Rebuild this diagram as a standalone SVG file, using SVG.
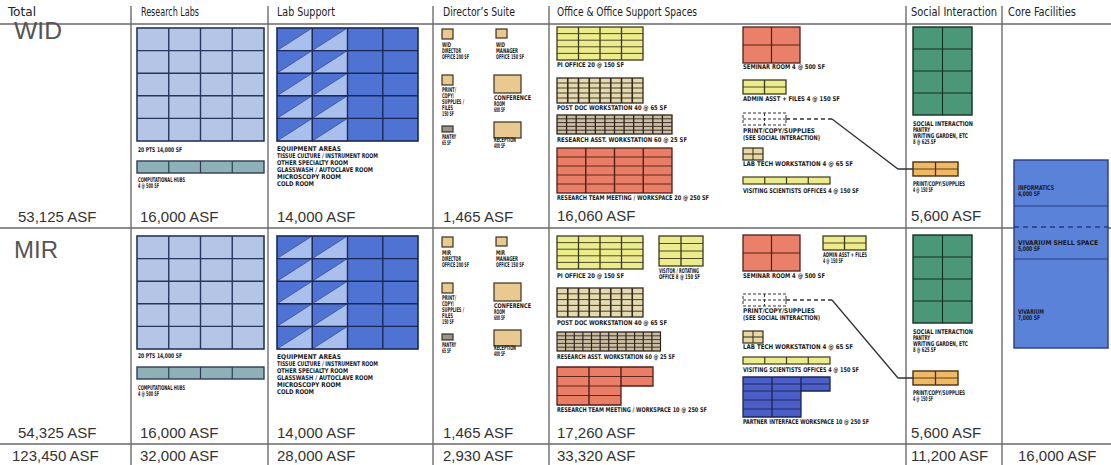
<svg xmlns="http://www.w3.org/2000/svg" width="1111" height="465" viewBox="0 0 1111 465">
<style>
.h{font-family:'DejaVu Sans Condensed','Liberation Sans',sans-serif;font-size:12px;fill:#222}
.big{font-family:'Liberation Sans',Arial,sans-serif;font-size:23px;fill:#555}
.asf{font-family:'Liberation Sans',Arial,sans-serif;font-size:15px;fill:#333}
.t{font-family:'DejaVu Sans Condensed','Liberation Sans',sans-serif;font-size:6.5px;font-weight:bold;fill:#1a1a1a}
.div{stroke:#555;stroke-width:1.2;fill:none}
.rule{stroke:#6a6a6a;stroke-width:1.6;fill:none}
.tan{fill:#e9c98e;stroke:#3a3020;stroke-width:1.2}
.conn{fill:none;stroke:#333;stroke-width:1.3}
</style>
<defs>
<g id="g-rl"><rect width="127" height="113" fill="#b5c5e5" stroke="#26365f" stroke-width="1.6"/><path d="M31.75 0V113M63.5 0V113M95.25 0V113M0 22.6H127M0 45.2H127M0 67.8H127M0 90.4H127" stroke="#26365f" stroke-width="1.4"/></g>
<g id="g-hub"><rect width="127" height="12" fill="#8fb0b6" stroke="#2c3e56" stroke-width="1.4"/><path d="M31.75 0V12M63.5 0V12M95.25 0V12" stroke="#2c3e56" stroke-width="1.2"/></g>
<g id="g-ls"><rect width="141" height="113" fill="#4e73d3"/><path d="M0 22.6L35.25 0V22.6ZM0 45.2L35.25 22.6V45.2ZM0 67.8L35.25 45.2V67.8ZM0 90.4L35.25 67.8V90.4ZM0 113L35.25 90.4V113ZM35.25 22.6L70.5 0V22.6ZM35.25 45.2L70.5 22.6V45.2ZM35.25 67.8L70.5 45.2V67.8ZM35.25 90.4L70.5 67.8V90.4ZM35.25 113L70.5 90.4V113Z" fill="#a9bfec" stroke="#2a3a70" stroke-width="0.6"/><rect width="141" height="113" fill="none" stroke="#1c2858" stroke-width="1.6"/><path d="M35.25 0V113M70.5 0V113M105.75 0V113M0 22.6H141M0 45.2H141M0 67.8H141M0 90.4H141" stroke="#1c2858" stroke-width="1.4"/></g>
<g id="g-pi"><rect width="86" height="33" fill="#ecec8c" stroke="#3b3a1a" stroke-width="1.3"/><path d="M0 6.6H86M0 13.2H86M0 19.8H86M0 26.4H86" stroke="#3b3a1a" stroke-width="0.9"/><path d="M21.5 0V33M43 0V33M64.5 0V33" stroke="#3b3a1a" stroke-width="1.3"/></g>
<g id="g-pd"><rect width="86" height="29" fill="#e4dab0" stroke="#33291c" stroke-width="1.3"/><path d="M10.75 0V29M21.5 0V29M32.25 0V29M43 0V29M53.75 0V29M64.5 0V29M75.25 0V29" stroke="#33291c" stroke-width="1.6"/><path d="M0 5.8H86M0 11.6H86M0 17.4H86M0 23.2H86" stroke="#33291c" stroke-width="0.9"/></g>
<g id="g-pd2"><rect width="86" height="25" fill="#e4dab0" stroke="#33291c" stroke-width="1.3"/><path d="M10.75 0V25M21.5 0V25M32.25 0V25M43 0V25M53.75 0V25M64.5 0V25M75.25 0V25" stroke="#33291c" stroke-width="1.6"/><path d="M0 5H86M0 10H86M0 15H86M0 20H86" stroke="#33291c" stroke-width="0.9"/></g>
<g id="g-ra"><rect width="115" height="19" fill="#c9bda4" stroke="#2e2218" stroke-width="1.3"/><path d="M9.58 0V19M19.17 0V19M28.75 0V19M38.33 0V19M47.92 0V19M57.5 0V19M67.08 0V19M76.67 0V19M86.25 0V19M95.83 0V19M105.42 0V19" stroke="#2e2218" stroke-width="1.3"/><path d="M0 3.8H115M0 7.6H115M0 11.4H115M0 15.2H115" stroke="#2e2218" stroke-width="0.9"/></g>
<g id="g-rtm"><rect width="115" height="45" fill="#e97d66" stroke="#4f2017" stroke-width="1.3"/><path d="M0 9H115M0 18H115M0 27H115M0 36H115" stroke="#4f2017" stroke-width="0.9"/><path d="M28.75 0V45M57.5 0V45M86.25 0V45" stroke="#4f2017" stroke-width="1.4"/></g>
<g id="g-sem"><rect width="57" height="36" fill="#ea8069" stroke="#4f2017" stroke-width="1.3"/><path d="M28.5 0V36M0 18H57" stroke="#4f2017" stroke-width="1.2"/></g>
<g id="g-adm"><rect width="43" height="14" fill="#ecec8c" stroke="#3b3a1a" stroke-width="1.3"/><path d="M21.5 0V14" stroke="#3b3a1a" stroke-width="1.3"/><path d="M0 7H43" stroke="#3b3a1a" stroke-width="0.9"/></g>
<g id="g-prn"><rect width="43" height="12" fill="#fff" stroke="#333" stroke-width="1" stroke-dasharray="3 2"/><path d="M21.5 0V12M0 6H43" stroke="#333" stroke-width="1" stroke-dasharray="3 2"/></g>
<g id="g-lt"><rect width="20" height="12" fill="#e6d9a2" stroke="#33291c" stroke-width="1.2"/><path d="M10 0V12M0 6H20" stroke="#33291c" stroke-width="1"/></g>
<g id="g-vs"><rect width="87" height="7" fill="#ecec8c" stroke="#3b3a1a" stroke-width="1.2"/><path d="M21.75 0V7M43.5 0V7M65.25 0V7" stroke="#3b3a1a" stroke-width="1.2"/></g>
<g id="g-soc"><rect width="59" height="88" fill="#4a9878" stroke="#14301f" stroke-width="1.4"/><path d="M29.5 0V88M0 22H59M0 44H59M0 66H59" stroke="#14301f" stroke-width="1.1"/></g>
<g id="g-sp"><rect width="45" height="14" fill="#f0b964" stroke="#4a3010" stroke-width="1.4"/><path d="M22.5 0V14" stroke="#4a3010" stroke-width="1.3"/><path d="M0 7H45" stroke="#4a3010" stroke-width="0.9"/></g>
<g id="g-vis"><rect width="44" height="30" fill="#ecec8c" stroke="#3b3a1a" stroke-width="1.3"/><path d="M22 0V30" stroke="#3b3a1a" stroke-width="1.3"/><path d="M0 7.5H44M0 15H44M0 22.5H44" stroke="#3b3a1a" stroke-width="0.9"/></g>
</defs>
<rect width="1111" height="465" fill="#fff"/>

<g id="table-rules">
<path class="div" d="M131 6V465M268 6V465M433 6V465M549 6V465M906 6V465M1002 6V465"/>
<path class="rule" d="M0 24H1111M0 228H1111M0 444H1111"/>
</g>

<g id="header">
<text class="h" x="8" y="16" textLength="28" lengthAdjust="spacingAndGlyphs">Total</text>
<text class="h" x="141" y="16" textLength="58" lengthAdjust="spacingAndGlyphs">Research Labs</text>
<text class="h" x="277" y="16" textLength="58" lengthAdjust="spacingAndGlyphs">Lab Support</text>
<text class="h" x="443" y="16" textLength="72" lengthAdjust="spacingAndGlyphs">Director’s Suite</text>
<text class="h" x="557" y="16" textLength="140" lengthAdjust="spacingAndGlyphs">Office &amp; Office Support Spaces</text>
<text class="h" x="911" y="16" textLength="86" lengthAdjust="spacingAndGlyphs">Social Interaction</text>
<text class="h" x="1008" y="16" textLength="68" lengthAdjust="spacingAndGlyphs">Core Facilities</text>
</g>

<g id="total">
<text class="big" x="14" y="39" textLength="48" lengthAdjust="spacingAndGlyphs">WID</text>
<text class="asf" x="18" y="222">53,125 ASF</text>
<text class="big" x="14" y="258" textLength="44" lengthAdjust="spacingAndGlyphs">MIR</text>
<text class="asf" x="18" y="438">54,325 ASF</text>
<text class="asf" x="12" y="461">123,450 ASF</text>
</g>

<g id="wid-research-labs">
<use href="#g-rl" x="137" y="28"/>
<text class="t" x="138" y="152" textLength="44" lengthAdjust="spacingAndGlyphs">20 PTS 14,000 SF</text>
<use href="#g-hub" x="137" y="161"/>
<text class="t" x="138" y="182" textLength="47" lengthAdjust="spacingAndGlyphs">COMPUTATIONAL HUBS</text>
<text class="t" x="138" y="188" textLength="21" lengthAdjust="spacingAndGlyphs">4 @ 500 SF</text>
<text class="asf" x="140" y="222">16,000 ASF</text>
</g>
<g id="mir-research-labs">
<use href="#g-rl" x="137" y="236"/>
<text class="t" x="138" y="358" textLength="44" lengthAdjust="spacingAndGlyphs">20 PTS 14,000 SF</text>
<use href="#g-hub" x="137" y="367"/>
<text class="t" x="138" y="390" textLength="47" lengthAdjust="spacingAndGlyphs">COMPUTATIONAL HUBS</text>
<text class="t" x="138" y="396" textLength="21" lengthAdjust="spacingAndGlyphs">4 @ 500 SF</text>
<text class="asf" x="140" y="438">16,000 ASF</text>
<text class="asf" x="140" y="461">32,000 ASF</text>
</g>

<g id="wid-lab-support">
<use href="#g-ls" x="277" y="28"/>
<text class="t" x="277" y="151" textLength="64" lengthAdjust="spacingAndGlyphs">EQUIPMENT AREAS</text>
<text class="t" x="277" y="158" textLength="101" lengthAdjust="spacingAndGlyphs">TISSUE CULTURE / INSTRUMENT ROOM</text>
<text class="t" x="277" y="165" textLength="71" lengthAdjust="spacingAndGlyphs">OTHER SPECIALTY ROOM</text>
<text class="t" x="277" y="172" textLength="96" lengthAdjust="spacingAndGlyphs">GLASSWASH / AUTOCLAVE ROOM</text>
<text class="t" x="277" y="179" textLength="64" lengthAdjust="spacingAndGlyphs">MICROSCOPY ROOM</text>
<text class="t" x="277" y="186" textLength="37" lengthAdjust="spacingAndGlyphs">COLD ROOM</text>
<text class="asf" x="277" y="222">14,000 ASF</text>
</g>
<g id="mir-lab-support">
<use href="#g-ls" x="277" y="236"/>
<text class="t" x="277" y="359" textLength="64" lengthAdjust="spacingAndGlyphs">EQUIPMENT AREAS</text>
<text class="t" x="277" y="366" textLength="101" lengthAdjust="spacingAndGlyphs">TISSUE CULTURE / INSTRUMENT ROOM</text>
<text class="t" x="277" y="373" textLength="71" lengthAdjust="spacingAndGlyphs">OTHER SPECIALTY ROOM</text>
<text class="t" x="277" y="380" textLength="96" lengthAdjust="spacingAndGlyphs">GLASSWASH / AUTOCLAVE ROOM</text>
<text class="t" x="277" y="387" textLength="64" lengthAdjust="spacingAndGlyphs">MICROSCOPY ROOM</text>
<text class="t" x="277" y="394" textLength="37" lengthAdjust="spacingAndGlyphs">COLD ROOM</text>
<text class="asf" x="277" y="438">14,000 ASF</text>
<text class="asf" x="277" y="461">28,000 ASF</text>
</g>

<g id="wid-directors-suite">
<rect class="tan" x="442" y="29" width="11" height="10"/>
<text class="t" x="442" y="47" textLength="9" lengthAdjust="spacingAndGlyphs">WID</text>
<text class="t" x="442" y="53" textLength="19" lengthAdjust="spacingAndGlyphs">DIRECTOR</text>
<text class="t" x="442" y="59" textLength="27" lengthAdjust="spacingAndGlyphs">OFFICE 200 SF</text>
<rect class="tan" x="496" y="29" width="11" height="9"/>
<text class="t" x="496" y="47" textLength="9" lengthAdjust="spacingAndGlyphs">WID</text>
<text class="t" x="496" y="53" textLength="22" lengthAdjust="spacingAndGlyphs">MANAGER</text>
<text class="t" x="496" y="59" textLength="28" lengthAdjust="spacingAndGlyphs">OFFICE 150 SF</text>
<rect class="tan" x="442" y="75" width="11" height="10"/>
<text class="t" x="442" y="92" textLength="14" lengthAdjust="spacingAndGlyphs">PRINT/</text>
<text class="t" x="442" y="98" textLength="12" lengthAdjust="spacingAndGlyphs">COPY/</text>
<text class="t" x="442" y="104" textLength="22" lengthAdjust="spacingAndGlyphs">SUPPLIES /</text>
<text class="t" x="442" y="110" textLength="11" lengthAdjust="spacingAndGlyphs">FILES</text>
<text class="t" x="442" y="116" textLength="12" lengthAdjust="spacingAndGlyphs">150 SF</text>
<rect class="tan" x="494" y="75" width="27" height="18"/>
<text class="t" x="494" y="100" textLength="37" lengthAdjust="spacingAndGlyphs">CONFERENCE</text>
<text class="t" x="494" y="106" textLength="11" lengthAdjust="spacingAndGlyphs">ROOM</text>
<text class="t" x="494" y="112" textLength="11" lengthAdjust="spacingAndGlyphs">600 SF</text>
<rect x="442" y="126" width="11" height="6" fill="#9c9488" stroke="#333" stroke-width="1.2"/>
<text class="t" x="442" y="139" textLength="14" lengthAdjust="spacingAndGlyphs">PANTRY</text>
<text class="t" x="442" y="145" textLength="9" lengthAdjust="spacingAndGlyphs">65 SF</text>
<rect class="tan" x="494" y="122" width="27" height="16"/>
<text class="t" x="494" y="142" textLength="22" lengthAdjust="spacingAndGlyphs">RECEPTION</text>
<text class="t" x="494" y="148" textLength="11" lengthAdjust="spacingAndGlyphs">400 SF</text>
<text class="asf" x="443" y="222">1,465 ASF</text>
</g>
<g id="mir-directors-suite">
<rect class="tan" x="442" y="237" width="11" height="10"/>
<text class="t" x="442" y="255" textLength="9" lengthAdjust="spacingAndGlyphs">MIR</text>
<text class="t" x="442" y="261" textLength="19" lengthAdjust="spacingAndGlyphs">DIRECTOR</text>
<text class="t" x="442" y="267" textLength="27" lengthAdjust="spacingAndGlyphs">OFFICE 200 SF</text>
<rect class="tan" x="496" y="237" width="11" height="9"/>
<text class="t" x="496" y="255" textLength="9" lengthAdjust="spacingAndGlyphs">MIR</text>
<text class="t" x="496" y="261" textLength="22" lengthAdjust="spacingAndGlyphs">MANAGER</text>
<text class="t" x="496" y="267" textLength="28" lengthAdjust="spacingAndGlyphs">OFFICE 150 SF</text>
<rect class="tan" x="442" y="283" width="11" height="10"/>
<text class="t" x="442" y="300" textLength="14" lengthAdjust="spacingAndGlyphs">PRINT/</text>
<text class="t" x="442" y="306" textLength="12" lengthAdjust="spacingAndGlyphs">COPY/</text>
<text class="t" x="442" y="312" textLength="22" lengthAdjust="spacingAndGlyphs">SUPPLIES /</text>
<text class="t" x="442" y="318" textLength="11" lengthAdjust="spacingAndGlyphs">FILES</text>
<text class="t" x="442" y="324" textLength="12" lengthAdjust="spacingAndGlyphs">150 SF</text>
<rect class="tan" x="494" y="283" width="27" height="18"/>
<text class="t" x="494" y="308" textLength="37" lengthAdjust="spacingAndGlyphs">CONFERENCE</text>
<text class="t" x="494" y="314" textLength="11" lengthAdjust="spacingAndGlyphs">ROOM</text>
<text class="t" x="494" y="320" textLength="11" lengthAdjust="spacingAndGlyphs">600 SF</text>
<rect x="442" y="334" width="11" height="6" fill="#9c9488" stroke="#333" stroke-width="1.2"/>
<text class="t" x="442" y="347" textLength="14" lengthAdjust="spacingAndGlyphs">PANTRY</text>
<text class="t" x="442" y="353" textLength="9" lengthAdjust="spacingAndGlyphs">65 SF</text>
<rect class="tan" x="494" y="330" width="27" height="16"/>
<text class="t" x="494" y="350" textLength="22" lengthAdjust="spacingAndGlyphs">RECEPTION</text>
<text class="t" x="494" y="356" textLength="11" lengthAdjust="spacingAndGlyphs">400 SF</text>
<text class="asf" x="443" y="438">1,465 ASF</text>
<text class="asf" x="443" y="461">2,930 ASF</text>
</g>

<g id="wid-office">
<use href="#g-pi" x="557" y="27"/>
<text class="t" x="557" y="67" textLength="67" lengthAdjust="spacingAndGlyphs">PI OFFICE 20 @ 150 SF</text>
<use href="#g-pd2" x="557" y="78"/>
<text class="t" x="557" y="110" textLength="110" lengthAdjust="spacingAndGlyphs">POST DOC WORKSTATION 40 @ 65 SF</text>
<use href="#g-ra" x="557" y="115"/>
<text class="t" x="557" y="142" textLength="130" lengthAdjust="spacingAndGlyphs">RESEARCH ASST. WORKSTATION 60 @ 25 SF</text>
<use href="#g-rtm" x="557" y="148"/>
<text class="t" x="557" y="200" textLength="152" lengthAdjust="spacingAndGlyphs">RESEARCH TEAM MEETING / WORKSPACE 20 @ 250 SF</text>
<text class="asf" x="557" y="221">16,060 ASF</text>
<use href="#g-sem" x="743" y="27"/>
<text class="t" x="743" y="69" textLength="82" lengthAdjust="spacingAndGlyphs">SEMINAR ROOM 4 @ 500 SF</text>
<use href="#g-adm" x="743" y="80"/>
<text class="t" x="743" y="101" textLength="97" lengthAdjust="spacingAndGlyphs">ADMIN ASST + FILES 4 @ 150 SF</text>
<use href="#g-prn" x="743" y="113"/>
<text class="t" x="743" y="133" textLength="72" lengthAdjust="spacingAndGlyphs">PRINT/COPY/SUPPLIES</text>
<text class="t" x="743" y="140" textLength="77" lengthAdjust="spacingAndGlyphs">(SEE SOCIAL INTERACTION)</text>
<use href="#g-lt" x="743" y="148"/>
<text class="t" x="743" y="166" textLength="110" lengthAdjust="spacingAndGlyphs">LAB TECH WORKSTATION 4 @ 65 SF</text>
<use href="#g-vs" x="743" y="177"/>
<text class="t" x="743" y="193" textLength="116" lengthAdjust="spacingAndGlyphs">VISITING SCIENTISTS OFFICES 4 @ 150 SF</text>
</g>
<g id="mir-office">
<use href="#g-pi" x="557" y="236"/>
<text class="t" x="557" y="278" textLength="67" lengthAdjust="spacingAndGlyphs">PI OFFICE 20 @ 150 SF</text>
<use href="#g-vis" x="659" y="236"/>
<text class="t" x="659" y="273" textLength="40" lengthAdjust="spacingAndGlyphs">VISITOR / ROTATING</text>
<text class="t" x="659" y="279" textLength="41" lengthAdjust="spacingAndGlyphs">OFFICE 8 @ 150 SF</text>
<use href="#g-pd" x="557" y="288"/>
<text class="t" x="557" y="325" textLength="110" lengthAdjust="spacingAndGlyphs">POST DOC WORKSTATION 40 @ 65 SF</text>
<g transform="translate(557 332) scale(0.9 1)"><use href="#g-ra"/></g>
<text class="t" x="557" y="359" textLength="118" lengthAdjust="spacingAndGlyphs">RESEARCH ASST. WORKSTATION 60 @ 25 SF</text>
<path d="M557 367H653V386H621V405H557Z" fill="#e97d66" stroke="#4f2017" stroke-width="1.3"/>
<path d="M557 376.5H653M557 386H621M557 395.5H621" stroke="#4f2017" stroke-width="0.9"/>
<path d="M589 367V405M621 367V386" stroke="#4f2017" stroke-width="1.4"/>
<text class="t" x="557" y="412" textLength="150" lengthAdjust="spacingAndGlyphs">RESEARCH TEAM MEETING / WORKSPACE 10 @ 250 SF</text>
<text class="asf" x="557" y="438">17,260 ASF</text>
<text class="asf" x="557" y="461">33,320 ASF</text>
<use href="#g-sem" x="743" y="235"/>
<text class="t" x="743" y="278" textLength="82" lengthAdjust="spacingAndGlyphs">SEMINAR ROOM 4 @ 500 SF</text>
<use href="#g-adm" x="823" y="236"/>
<text class="t" x="823" y="257" textLength="44" lengthAdjust="spacingAndGlyphs">ADMIN ASST + FILES</text>
<text class="t" x="823" y="263" textLength="20" lengthAdjust="spacingAndGlyphs">4 @ 150 SF</text>
<use href="#g-prn" x="743" y="294"/>
<text class="t" x="743" y="313" textLength="72" lengthAdjust="spacingAndGlyphs">PRINT/COPY/SUPPLIES</text>
<text class="t" x="743" y="320" textLength="77" lengthAdjust="spacingAndGlyphs">(SEE SOCIAL INTERACTION)</text>
<use href="#g-lt" x="743" y="331"/>
<text class="t" x="743" y="349" textLength="110" lengthAdjust="spacingAndGlyphs">LAB TECH WORKSTATION 4 @ 65 SF</text>
<use href="#g-vs" x="743" y="357"/>
<text class="t" x="743" y="372" textLength="116" lengthAdjust="spacingAndGlyphs">VISITING SCIENTISTS OFFICES 4 @ 150 SF</text>
<path d="M743 377H830V391H801V417H743Z" fill="#4b5fc6" stroke="#1c2458" stroke-width="1.3"/>
<path d="M743 384H830M743 391H801M743 400H801M743 409H801" stroke="#1c2458" stroke-width="0.9"/>
<path d="M772 377V417M801 377V391" stroke="#1c2458" stroke-width="1.3"/>
<text class="t" x="743" y="424" textLength="126" lengthAdjust="spacingAndGlyphs">PARTNER INTERFACE WORKSPACE 10 @ 250 SF</text>
</g>

<g id="wid-social">
<use href="#g-soc" x="913" y="27"/>
<text class="t" x="913" y="126" textLength="60" lengthAdjust="spacingAndGlyphs">SOCIAL INTERACTION</text>
<text class="t" x="913" y="132" textLength="17" lengthAdjust="spacingAndGlyphs">PANTRY</text>
<text class="t" x="913" y="138" textLength="55" lengthAdjust="spacingAndGlyphs">WRITING GARDEN, ETC</text>
<text class="t" x="913" y="144" textLength="23" lengthAdjust="spacingAndGlyphs">8 @ 625 SF</text>
<use href="#g-sp" x="913" y="162"/>
<text class="t" x="913" y="186" textLength="52" lengthAdjust="spacingAndGlyphs">PRINT/COPY/SUPPLIES</text>
<text class="t" x="913" y="192" textLength="20" lengthAdjust="spacingAndGlyphs">4 @ 150 SF</text>
<text class="asf" x="911" y="221">5,600 ASF</text>
</g>
<g id="mir-social">
<use href="#g-soc" x="913" y="235"/>
<text class="t" x="913" y="334" textLength="60" lengthAdjust="spacingAndGlyphs">SOCIAL INTERACTION</text>
<text class="t" x="913" y="340" textLength="17" lengthAdjust="spacingAndGlyphs">PANTRY</text>
<text class="t" x="913" y="346" textLength="55" lengthAdjust="spacingAndGlyphs">WRITING GARDEN, ETC</text>
<text class="t" x="913" y="352" textLength="23" lengthAdjust="spacingAndGlyphs">8 @ 625 SF</text>
<use href="#g-sp" x="913" y="371"/>
<text class="t" x="913" y="395" textLength="52" lengthAdjust="spacingAndGlyphs">PRINT/COPY/SUPPLIES</text>
<text class="t" x="913" y="401" textLength="20" lengthAdjust="spacingAndGlyphs">4 @ 150 SF</text>
<text class="asf" x="911" y="438">5,600 ASF</text>
<text class="asf" x="911" y="461">11,200 ASF</text>
</g>

<g id="core-facilities">
<rect x="1014" y="160" width="94" height="188" fill="#5b82d9" stroke="#2a3a80" stroke-width="1.4"/>
<path d="M1014 206H1108M1014 259H1108" stroke="#2a3a80" stroke-width="1.2"/>
<path d="M1014 227H1108" stroke="#2a3a80" stroke-width="1.4" stroke-dasharray="5 4"/>
<text class="t" x="1018" y="190" textLength="36" lengthAdjust="spacingAndGlyphs">INFORMATICS</text>
<text class="t" x="1018" y="196" textLength="22" lengthAdjust="spacingAndGlyphs">4,000 SF</text>
<text class="t" x="1018" y="245" textLength="80" lengthAdjust="spacingAndGlyphs">VIVARIUM SHELL SPACE</text>
<text class="t" x="1018" y="251" textLength="22" lengthAdjust="spacingAndGlyphs">5,000 SF</text>
<text class="t" x="1018" y="314" textLength="26" lengthAdjust="spacingAndGlyphs">VIVARIUM</text>
<text class="t" x="1018" y="320" textLength="22" lengthAdjust="spacingAndGlyphs">7,000 SF</text>
<text class="asf" x="1018" y="461">16,000 ASF</text>
</g>

<g id="connectors">
<path class="conn" d="M786 119H832" stroke-dasharray="4 3"/>
<path class="conn" d="M832 119L898 169H913"/>
<path class="conn" d="M786 300H832" stroke-dasharray="4 3"/>
<path class="conn" d="M832 300L898 378H913"/>
</g>
</svg>
